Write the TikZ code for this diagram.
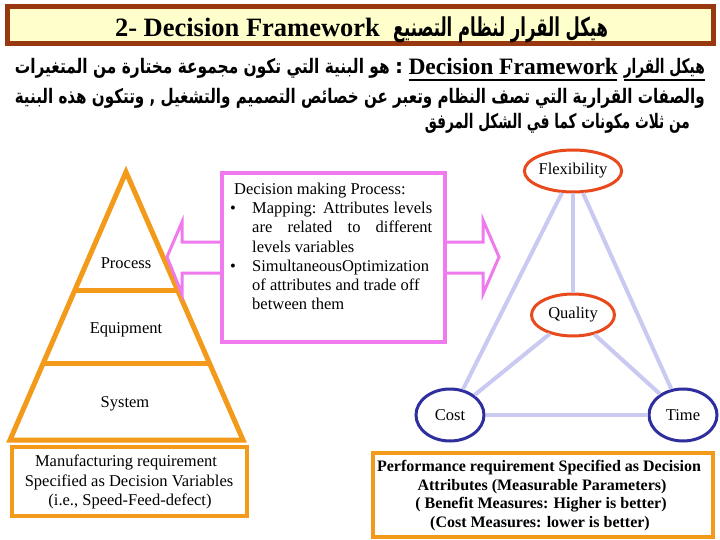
\documentclass[tikz,border=0pt]{standalone}
\usepackage{fontspec}
\usepackage{graphicx}
\setmainfont{Liberation Serif}
\newfontfamily\arabicfont[Script=Arabic]{DejaVu Sans}
\TeXXeTstate=1
\usetikzlibrary{shapes.geometric}
\definecolor{brownB}{HTML}{993810}
\definecolor{ylw}{HTML}{FFFFCC}
\definecolor{orng}{HTML}{F39A1B}
\definecolor{mgnt}{HTML}{EE7AEE}
\definecolor{redE}{HTML}{E84A1E}
\definecolor{bluE}{HTML}{2E2E9E}
\definecolor{lav}{HTML}{C9C9F2}
\newsavebox\fitbox
\newcommand\fitw[2]{\sbox\fitbox{#2}\resizebox{#1}{\ht\fitbox}{\usebox\fitbox}}
\begin{document}
\begin{tikzpicture}[x=1pt,y=-1pt,
  txt/.style={inner sep=0pt,outer sep=0pt},
  lbl/.style={inner sep=0pt,font=\fontsize{16.5}{19}\selectfont},
  dtxt/.style={inner sep=0pt,anchor=base west,font=\fontsize{16.5}{19}\selectfont},
  btxt/.style={inner sep=0pt,anchor=base,font=\fontsize{16.5}{19}\selectfont},
  pbtxt/.style={inner sep=0pt,anchor=base,font=\fontsize{16}{19}\selectfont\bfseries},
  arab/.style={inner sep=0pt,anchor=base east,font=\arabicfont\bfseries\fontsize{20}{24}\selectfont},
  ellr/.style={ellipse,draw=redE,line width=3pt,fill=white,inner sep=0pt,font=\fontsize{16.5}{19}\selectfont},
  ellb/.style={ellipse,draw=bluE,line width=3pt,fill=white,inner sep=0pt,font=\fontsize{16.5}{19}\selectfont},
  conn/.style={draw=lav,line width=4pt},
  obox/.style={draw=orng,line width=4pt,fill=white},
  harrow/.style={draw=mgnt,line width=3pt,fill=white,line join=miter}
]
\fill[white] (0,0) rectangle (720,540);
\useasboundingbox (0,0) rectangle (720,540);

% title
\draw[draw=brownB,fill=ylw,line width=5pt] (7,6.5) rectangle (713,43.5);
\node[txt,anchor=base west,font=\fontsize{26.5}{30}\selectfont\bfseries] (t1) at (115,37) {2- Decision Framework};
\node[txt,anchor=base west,font=\arabicfont\bfseries\fontsize{26}{30}\selectfont] (t2) at (393,37) {\fitw{215pt}{\beginR هيكل القرار لنظام التصنيع\endR}};

% line 1
\node[arab] (a1) at (705,74) {\fitw{81pt}{\beginR هيكل القرار\endR}};
\draw[line width=2pt] (624,80) -- (705,80);
\node[txt,anchor=base east,font=\fontsize{23.5}{26}\selectfont\bfseries] (df) at (618,75) {Decision Framework};
\draw[line width=2pt] (df.base west) ++(0,5) -- ++(208,0);
\node[txt,anchor=base,font=\arabicfont\bfseries\fontsize{20}{24}\selectfont] (colon) at (399,74) {:};
\node[arab] (a2) at (390,74) {\fitw{375pt}{\beginR هو البنية التي تكون مجموعة مختارة من المتغيرات\endR}};
% line 2
\node[arab] (a3) at (705,104) {\fitw{690pt}{\beginR والصفات القرارية التي  تصف النظام وتعبر عن خصائص التصميم والتشغيل , وتتكون هذه البنية\endR}};
% line 3
\node[arab] (a4) at (690,129) {\fitw{265pt}{\beginR من ثلاث مكونات كما في الشكل المرفق\endR}};

% pyramid
\coordinate (apex) at (126,172);
\coordinate (bl) at (10,440);
\coordinate (br) at (243,440);
\draw[orng,line width=5pt,line join=miter] (apex) -- (bl) -- (br) -- cycle;
\coordinate (p1l) at (75,290); \coordinate (p1r) at (177,290);
\coordinate (p2l) at (43,363); \coordinate (p2r) at (209,363);
\draw[orng,line width=5pt] (p1l) -- (p1r);
\draw[orng,line width=5pt] (p2l) -- (p2r);
\node[lbl,anchor=base] (proc) at (126,268) {Process};
\node[lbl,anchor=base] (equip) at (126,333) {Equipment};
\node[lbl,anchor=base] (sys) at (125,407) {System};

% manufacturing box
\draw[obox] (12,447) rectangle (247,516);
\node[btxt] (m1) at (126,466) {Manufacturing requirement};
\node[btxt] (m2) at (129,486) {Specified as Decision Variables};
\node[btxt] (m3) at (130,505) {(i.e., Speed-Feed-defect)};

% arrows
\draw[harrow] (222,242) -- (182,242) -- (182,222) -- (167,257) -- (182,294) -- (182,273) -- (222,273);
\draw[harrow] (445,242) -- (483,242) -- (483,220) -- (499,257) -- (483,294) -- (483,273) -- (445,273);

% decision box
\draw[draw=mgnt,line width=4pt,fill=white] (222,173) rectangle (445,342);
\node[dtxt] (d0) at (234,195) {Decision making Process:};
\node[dtxt] (b1) at (230,214) {•};
\node[dtxt] (d1) at (252,214) {\makebox[180pt][s]{Mapping: Attributes levels}};
\node[dtxt] (d2) at (252,233) {\makebox[180pt][s]{are related to different}};
\node[dtxt] (d3) at (252,252) {levels variables};
\node[dtxt] (b2) at (230,271) {•};
\node[dtxt] (d4) at (252,271) {SimultaneousOptimization};
\node[dtxt] (d5) at (252,290) {of attributes and trade off};
\node[dtxt] (d6) at (252,309) {between them};

% triangle of attributes
\node[ellr,minimum width=90pt,minimum height=42pt] (flex) at (573,171) {Flexibility};
\node[ellr,minimum width=83pt,minimum height=42pt] (qual) at (573,315) {Quality};
\node[ellb,minimum width=68pt,minimum height=52pt] (cost) at (450,415) {Cost};
\node[ellb,minimum width=68pt,minimum height=52pt] (time) at (683,415) {Time};
\draw[conn] (flex) -- (qual);
\draw[conn] (flex) -- (cost);
\draw[conn] (flex) -- (time);
\draw[conn] (qual) -- (cost);
\draw[conn] (qual) -- (time);
\draw[conn] (cost) -- (time);

% performance box
\draw[obox] (373,453) rectangle (713,537);
\node[pbtxt] (q1) at (539,471) {Performance requirement Specified as Decision};
\node[pbtxt] (q2) at (542,490) {Attributes (Measurable Parameters)};
\node[pbtxt] (q3) at (541,508) {( Benefit Measures: Higher is better)};
\node[pbtxt] (q4) at (540,527) {(Cost Measures: lower is better)};
\end{tikzpicture}
\end{document}
